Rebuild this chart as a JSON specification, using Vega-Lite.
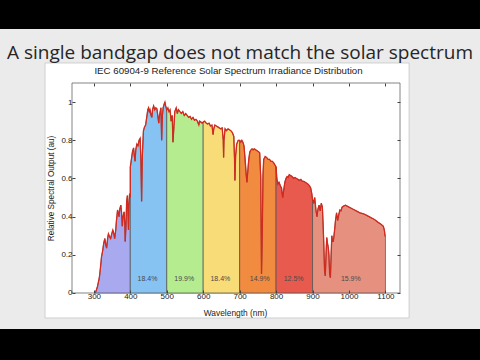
{
  "$schema": "https://vega.github.io/schema/vega-lite/v6.json",
  "width": 480,
  "height": 300,
  "autosize": {"type": "none"},
  "padding": {"top": 29, "bottom": 31, "left": 0, "right": 0},
  "background": "#000000",
  "config": {
    "view": {"fill": "#ebebeb", "stroke": null},
    "font": "Liberation Sans",
    "axis": {"grid": false, "domain": false, "tickColor": "#444444", "labelColor": "#222222", "titleColor": "#222222", "titleFontWeight": "normal"}
  },
  "title": {
    "text": "A single bandgap does not match the solar spectrum",
    "font": "Open Sans",
    "fontSize": 19,
    "fontWeight": "normal",
    "color": "#262626",
    "anchor": "middle",
    "frame": "group",
    "dy": 38
  },
  "resolve": {"axis": {"x": "independent", "y": "independent"}},
  "datasets": {
    "spectrum": [
      {"w": 303, "v": 0.0, "band": "<400"},
      {"w": 306, "v": 0.01, "band": "<400"},
      {"w": 310, "v": 0.035, "band": "<400"},
      {"w": 315, "v": 0.08, "band": "<400"},
      {"w": 318, "v": 0.13, "band": "<400"},
      {"w": 321, "v": 0.19, "band": "<400"},
      {"w": 324, "v": 0.22, "band": "<400"},
      {"w": 327, "v": 0.26, "band": "<400"},
      {"w": 330, "v": 0.285, "band": "<400"},
      {"w": 333, "v": 0.25, "band": "<400"},
      {"w": 335, "v": 0.235, "band": "<400"},
      {"w": 338, "v": 0.29, "band": "<400"},
      {"w": 340, "v": 0.31, "band": "<400"},
      {"w": 343, "v": 0.295, "band": "<400"},
      {"w": 346, "v": 0.285, "band": "<400"},
      {"w": 349, "v": 0.31, "band": "<400"},
      {"w": 352, "v": 0.33, "band": "<400"},
      {"w": 355, "v": 0.31, "band": "<400"},
      {"w": 357, "v": 0.285, "band": "<400"},
      {"w": 360, "v": 0.33, "band": "<400"},
      {"w": 362, "v": 0.38, "band": "<400"},
      {"w": 365, "v": 0.435, "band": "<400"},
      {"w": 367, "v": 0.42, "band": "<400"},
      {"w": 369, "v": 0.4, "band": "<400"},
      {"w": 371, "v": 0.44, "band": "<400"},
      {"w": 374, "v": 0.46, "band": "<400"},
      {"w": 376, "v": 0.42, "band": "<400"},
      {"w": 378, "v": 0.35, "band": "<400"},
      {"w": 380, "v": 0.4, "band": "<400"},
      {"w": 383, "v": 0.425, "band": "<400"},
      {"w": 385, "v": 0.36, "band": "<400"},
      {"w": 386, "v": 0.27, "band": "<400"},
      {"w": 388, "v": 0.35, "band": "<400"},
      {"w": 390, "v": 0.48, "band": "<400"},
      {"w": 392, "v": 0.51, "band": "<400"},
      {"w": 394, "v": 0.4, "band": "<400"},
      {"w": 395, "v": 0.33, "band": "<400"},
      {"w": 396, "v": 0.45, "band": "<400"},
      {"w": 398, "v": 0.52, "band": "<400"},
      {"w": 400, "v": 0.5, "band": "<400"},
      {"w": 400, "v": 0.66, "band": "400-500"},
      {"w": 403, "v": 0.7, "band": "400-500"},
      {"w": 406, "v": 0.74, "band": "400-500"},
      {"w": 409, "v": 0.76, "band": "400-500"},
      {"w": 411, "v": 0.72, "band": "400-500"},
      {"w": 413, "v": 0.69, "band": "400-500"},
      {"w": 415, "v": 0.75, "band": "400-500"},
      {"w": 418, "v": 0.78, "band": "400-500"},
      {"w": 421, "v": 0.77, "band": "400-500"},
      {"w": 424, "v": 0.8, "band": "400-500"},
      {"w": 427, "v": 0.81, "band": "400-500"},
      {"w": 429, "v": 0.7, "band": "400-500"},
      {"w": 431, "v": 0.48, "band": "400-500"},
      {"w": 433, "v": 0.72, "band": "400-500"},
      {"w": 436, "v": 0.85, "band": "400-500"},
      {"w": 439, "v": 0.87, "band": "400-500"},
      {"w": 442, "v": 0.88, "band": "400-500"},
      {"w": 445, "v": 0.92, "band": "400-500"},
      {"w": 448, "v": 0.96, "band": "400-500"},
      {"w": 450, "v": 0.97, "band": "400-500"},
      {"w": 452, "v": 0.95, "band": "400-500"},
      {"w": 454, "v": 0.96, "band": "400-500"},
      {"w": 457, "v": 0.93, "band": "400-500"},
      {"w": 459, "v": 0.92, "band": "400-500"},
      {"w": 461, "v": 0.96, "band": "400-500"},
      {"w": 464, "v": 0.98, "band": "400-500"},
      {"w": 467, "v": 0.96, "band": "400-500"},
      {"w": 470, "v": 0.97, "band": "400-500"},
      {"w": 473, "v": 0.965, "band": "400-500"},
      {"w": 476, "v": 0.92, "band": "400-500"},
      {"w": 478, "v": 0.89, "band": "400-500"},
      {"w": 480, "v": 0.93, "band": "400-500"},
      {"w": 482, "v": 0.95, "band": "400-500"},
      {"w": 484, "v": 0.97, "band": "400-500"},
      {"w": 486, "v": 0.8, "band": "400-500"},
      {"w": 488, "v": 0.93, "band": "400-500"},
      {"w": 490, "v": 0.97, "band": "400-500"},
      {"w": 493, "v": 0.99, "band": "400-500"},
      {"w": 495, "v": 1.0, "band": "400-500"},
      {"w": 497, "v": 0.98, "band": "400-500"},
      {"w": 500, "v": 0.96, "band": "400-500"},
      {"w": 500, "v": 0.96, "band": "500-600"},
      {"w": 503, "v": 0.97, "band": "500-600"},
      {"w": 506, "v": 0.95, "band": "500-600"},
      {"w": 509, "v": 0.96, "band": "500-600"},
      {"w": 512, "v": 0.9, "band": "500-600"},
      {"w": 515, "v": 0.93, "band": "500-600"},
      {"w": 517, "v": 0.79, "band": "500-600"},
      {"w": 519, "v": 0.85, "band": "500-600"},
      {"w": 522, "v": 0.95, "band": "500-600"},
      {"w": 526, "v": 0.97, "band": "500-600"},
      {"w": 529, "v": 0.94, "band": "500-600"},
      {"w": 532, "v": 0.96, "band": "500-600"},
      {"w": 536, "v": 0.95, "band": "500-600"},
      {"w": 540, "v": 0.94, "band": "500-600"},
      {"w": 544, "v": 0.95, "band": "500-600"},
      {"w": 548, "v": 0.93, "band": "500-600"},
      {"w": 552, "v": 0.94, "band": "500-600"},
      {"w": 556, "v": 0.93, "band": "500-600"},
      {"w": 560, "v": 0.92, "band": "500-600"},
      {"w": 564, "v": 0.925, "band": "500-600"},
      {"w": 568, "v": 0.91, "band": "500-600"},
      {"w": 572, "v": 0.92, "band": "500-600"},
      {"w": 576, "v": 0.905, "band": "500-600"},
      {"w": 580, "v": 0.91, "band": "500-600"},
      {"w": 584, "v": 0.9, "band": "500-600"},
      {"w": 588, "v": 0.88, "band": "500-600"},
      {"w": 590, "v": 0.9, "band": "500-600"},
      {"w": 594, "v": 0.895, "band": "500-600"},
      {"w": 597, "v": 0.89, "band": "500-600"},
      {"w": 600, "v": 0.895, "band": "500-600"},
      {"w": 600, "v": 0.895, "band": "600-700"},
      {"w": 604, "v": 0.9, "band": "600-700"},
      {"w": 608, "v": 0.89, "band": "600-700"},
      {"w": 612, "v": 0.885, "band": "600-700"},
      {"w": 616, "v": 0.89, "band": "600-700"},
      {"w": 620, "v": 0.875, "band": "600-700"},
      {"w": 624, "v": 0.88, "band": "600-700"},
      {"w": 627, "v": 0.83, "band": "600-700"},
      {"w": 629, "v": 0.86, "band": "600-700"},
      {"w": 632, "v": 0.88, "band": "600-700"},
      {"w": 636, "v": 0.875, "band": "600-700"},
      {"w": 640, "v": 0.87, "band": "600-700"},
      {"w": 644, "v": 0.865, "band": "600-700"},
      {"w": 648, "v": 0.86, "band": "600-700"},
      {"w": 652, "v": 0.865, "band": "600-700"},
      {"w": 655, "v": 0.8, "band": "600-700"},
      {"w": 656, "v": 0.71, "band": "600-700"},
      {"w": 657, "v": 0.8, "band": "600-700"},
      {"w": 660, "v": 0.86, "band": "600-700"},
      {"w": 664, "v": 0.85, "band": "600-700"},
      {"w": 668, "v": 0.86, "band": "600-700"},
      {"w": 672, "v": 0.855, "band": "600-700"},
      {"w": 676, "v": 0.85, "band": "600-700"},
      {"w": 680, "v": 0.84, "band": "600-700"},
      {"w": 684, "v": 0.82, "band": "600-700"},
      {"w": 686, "v": 0.7, "band": "600-700"},
      {"w": 687, "v": 0.59, "band": "600-700"},
      {"w": 689, "v": 0.72, "band": "600-700"},
      {"w": 692, "v": 0.78, "band": "600-700"},
      {"w": 696, "v": 0.8, "band": "600-700"},
      {"w": 700, "v": 0.8, "band": "600-700"},
      {"w": 700, "v": 0.8, "band": "700-800"},
      {"w": 703, "v": 0.79, "band": "700-800"},
      {"w": 706, "v": 0.8, "band": "700-800"},
      {"w": 709, "v": 0.79, "band": "700-800"},
      {"w": 712, "v": 0.77, "band": "700-800"},
      {"w": 715, "v": 0.7, "band": "700-800"},
      {"w": 718, "v": 0.62, "band": "700-800"},
      {"w": 720, "v": 0.58, "band": "700-800"},
      {"w": 722, "v": 0.63, "band": "700-800"},
      {"w": 725, "v": 0.7, "band": "700-800"},
      {"w": 728, "v": 0.74, "band": "700-800"},
      {"w": 731, "v": 0.75, "band": "700-800"},
      {"w": 734, "v": 0.755, "band": "700-800"},
      {"w": 737, "v": 0.75, "band": "700-800"},
      {"w": 740, "v": 0.755, "band": "700-800"},
      {"w": 744, "v": 0.75, "band": "700-800"},
      {"w": 748, "v": 0.745, "band": "700-800"},
      {"w": 752, "v": 0.74, "band": "700-800"},
      {"w": 755, "v": 0.735, "band": "700-800"},
      {"w": 758, "v": 0.6, "band": "700-800"},
      {"w": 760, "v": 0.1, "band": "700-800"},
      {"w": 762, "v": 0.3, "band": "700-800"},
      {"w": 764, "v": 0.62, "band": "700-800"},
      {"w": 766, "v": 0.7, "band": "700-800"},
      {"w": 770, "v": 0.715, "band": "700-800"},
      {"w": 774, "v": 0.71, "band": "700-800"},
      {"w": 778, "v": 0.7, "band": "700-800"},
      {"w": 782, "v": 0.7, "band": "700-800"},
      {"w": 786, "v": 0.69, "band": "700-800"},
      {"w": 790, "v": 0.69, "band": "700-800"},
      {"w": 794, "v": 0.68, "band": "700-800"},
      {"w": 797, "v": 0.67, "band": "700-800"},
      {"w": 800, "v": 0.66, "band": "700-800"},
      {"w": 800, "v": 0.66, "band": "800-900"},
      {"w": 802, "v": 0.6, "band": "800-900"},
      {"w": 805, "v": 0.57, "band": "800-900"},
      {"w": 808, "v": 0.58, "band": "800-900"},
      {"w": 812, "v": 0.56, "band": "800-900"},
      {"w": 815, "v": 0.55, "band": "800-900"},
      {"w": 818, "v": 0.5, "band": "800-900"},
      {"w": 821, "v": 0.54, "band": "800-900"},
      {"w": 824, "v": 0.58, "band": "800-900"},
      {"w": 827, "v": 0.6, "band": "800-900"},
      {"w": 830, "v": 0.61, "band": "800-900"},
      {"w": 833, "v": 0.605, "band": "800-900"},
      {"w": 836, "v": 0.62, "band": "800-900"},
      {"w": 840, "v": 0.615, "band": "800-900"},
      {"w": 844, "v": 0.61, "band": "800-900"},
      {"w": 848, "v": 0.6, "band": "800-900"},
      {"w": 852, "v": 0.605, "band": "800-900"},
      {"w": 856, "v": 0.6, "band": "800-900"},
      {"w": 860, "v": 0.595, "band": "800-900"},
      {"w": 864, "v": 0.59, "band": "800-900"},
      {"w": 868, "v": 0.595, "band": "800-900"},
      {"w": 872, "v": 0.585, "band": "800-900"},
      {"w": 876, "v": 0.585, "band": "800-900"},
      {"w": 880, "v": 0.58, "band": "800-900"},
      {"w": 884, "v": 0.575, "band": "800-900"},
      {"w": 888, "v": 0.57, "band": "800-900"},
      {"w": 892, "v": 0.56, "band": "800-900"},
      {"w": 895, "v": 0.55, "band": "800-900"},
      {"w": 898, "v": 0.52, "band": "800-900"},
      {"w": 900, "v": 0.49, "band": "800-900"},
      {"w": 900, "v": 0.49, "band": "900-1100"},
      {"w": 903, "v": 0.47, "band": "900-1100"},
      {"w": 906, "v": 0.5, "band": "900-1100"},
      {"w": 909, "v": 0.44, "band": "900-1100"},
      {"w": 912, "v": 0.4, "band": "900-1100"},
      {"w": 915, "v": 0.44, "band": "900-1100"},
      {"w": 918, "v": 0.46, "band": "900-1100"},
      {"w": 921, "v": 0.43, "band": "900-1100"},
      {"w": 924, "v": 0.47, "band": "900-1100"},
      {"w": 927, "v": 0.45, "band": "900-1100"},
      {"w": 929, "v": 0.36, "band": "900-1100"},
      {"w": 931, "v": 0.25, "band": "900-1100"},
      {"w": 933, "v": 0.12, "band": "900-1100"},
      {"w": 935, "v": 0.09, "band": "900-1100"},
      {"w": 937, "v": 0.2, "band": "900-1100"},
      {"w": 939, "v": 0.29, "band": "900-1100"},
      {"w": 941, "v": 0.26, "band": "900-1100"},
      {"w": 943, "v": 0.24, "band": "900-1100"},
      {"w": 945, "v": 0.2, "band": "900-1100"},
      {"w": 947, "v": 0.1, "band": "900-1100"},
      {"w": 949, "v": 0.08, "band": "900-1100"},
      {"w": 951, "v": 0.2, "band": "900-1100"},
      {"w": 953, "v": 0.3, "band": "900-1100"},
      {"w": 955, "v": 0.27, "band": "900-1100"},
      {"w": 957, "v": 0.27, "band": "900-1100"},
      {"w": 960, "v": 0.32, "band": "900-1100"},
      {"w": 963, "v": 0.38, "band": "900-1100"},
      {"w": 966, "v": 0.42, "band": "900-1100"},
      {"w": 969, "v": 0.38, "band": "900-1100"},
      {"w": 972, "v": 0.41, "band": "900-1100"},
      {"w": 975, "v": 0.435, "band": "900-1100"},
      {"w": 978, "v": 0.43, "band": "900-1100"},
      {"w": 981, "v": 0.45, "band": "900-1100"},
      {"w": 985, "v": 0.455, "band": "900-1100"},
      {"w": 990, "v": 0.46, "band": "900-1100"},
      {"w": 995, "v": 0.455, "band": "900-1100"},
      {"w": 1000, "v": 0.45, "band": "900-1100"},
      {"w": 1010, "v": 0.44, "band": "900-1100"},
      {"w": 1020, "v": 0.43, "band": "900-1100"},
      {"w": 1030, "v": 0.42, "band": "900-1100"},
      {"w": 1040, "v": 0.415, "band": "900-1100"},
      {"w": 1050, "v": 0.405, "band": "900-1100"},
      {"w": 1060, "v": 0.395, "band": "900-1100"},
      {"w": 1070, "v": 0.385, "band": "900-1100"},
      {"w": 1080, "v": 0.37, "band": "900-1100"},
      {"w": 1088, "v": 0.36, "band": "900-1100"},
      {"w": 1094, "v": 0.35, "band": "900-1100"},
      {"w": 1097, "v": 0.33, "band": "900-1100"},
      {"w": 1099, "v": 0.3, "band": "900-1100"},
      {"w": 1100, "v": 0.3, "band": "900-1100"}
    ],
    "shares": [
      {"w": 447, "label": "18.4%"},
      {"w": 548, "label": "19.9%"},
      {"w": 647, "label": "18.4%"},
      {"w": 755, "label": "14.9%"},
      {"w": 848, "label": "12.5%"},
      {"w": 1005, "label": "15.9%"}
    ]
  },
  "layer": [
    {
      "data": {"values": [{}]},
      "mark": {"type": "rect", "fill": "#ffffff", "stroke": "#cfcfcf", "strokeWidth": 1},
      "encoding": {
        "x": {"datum": 166, "type": "quantitative", "scale": {"domain": [42.44, 1359.5], "nice": false, "zero": false}, "axis": null},
        "x2": {"datum": 1165},
        "y": {"datum": -0.131, "type": "quantitative", "scale": {"domain": [-0.1886, 1.3829], "nice": false, "zero": false}, "axis": null},
        "y2": {"datum": 1.205}
      }
    },
    {
      "data": {"values": [{}]},
      "mark": {"type": "rect", "fill": "#ffffff", "stroke": "#666666", "strokeWidth": 0.8},
      "encoding": {
        "x": {"datum": 240, "type": "quantitative", "scale": {"domain": [42.44, 1359.5], "nice": false, "zero": false}, "axis": null},
        "x2": {"datum": 1140},
        "y": {"datum": 0, "type": "quantitative", "scale": {"domain": [-0.1886, 1.3829], "nice": false, "zero": false}, "axis": null},
        "y2": {"datum": 1.1}
      }
    },
    {
      "data": {"name": "spectrum"},
      "mark": {"type": "area", "opacity": 1, "stroke": "#4d4d4d", "strokeWidth": 0.7, "interpolate": "linear"},
      "encoding": {
        "x": {
          "field": "w", "type": "quantitative",
          "scale": {"domain": [42.44, 1359.5], "nice": false, "zero": false},
          "axis": {
            "orient": "bottom", "offset": -36, "zindex": 2, "values": [300, 400, 500, 600, 700, 800, 900, 1000, 1100],
            "format": "d", "tickSize": -3, "labelPadding": 2, "labelFontSize": 8,
            "title": "Wavelength (nm)", "titleFontSize": 8.4, "titleX": 235, "titleY": 19, "titleBaseline": "middle"
          }
        },
        "y": {
          "field": "v", "type": "quantitative", "stack": null,
          "scale": {"domain": [-0.1886, 1.3829], "nice": false, "zero": false},
          "axis": {
            "orient": "left", "offset": -72, "zindex": 2, "values": [0, 0.2, 0.4, 0.6, 0.8, 1],
            "format": "~g", "tickSize": -3, "labelPadding": 3, "labelFontSize": 8,
            "title": "Relative Spectral Output (au)", "titleFontSize": 8.2, "titleX": -21, "titleY": 159, "titleBaseline": "middle"
          }
        },
        "y2": {"datum": 0},
        "color": {
          "field": "band", "type": "nominal", "legend": null,
          "scale": {
            "domain": ["<400", "400-500", "500-600", "600-700", "700-800", "800-900", "900-1100"],
            "range": ["#a8a9ee", "#86c3f2", "#b6ec90", "#f8dc78", "#f08b40", "#e85a4e", "#e6917f"]
          }
        }
      }
    },
    {
      "data": {"name": "spectrum"},
      "mark": {"type": "line", "color": "#d22a1e", "strokeWidth": 1.3, "interpolate": "linear"},
      "encoding": {
        "x": {
          "field": "w", "type": "quantitative",
          "scale": {"domain": [42.44, 1359.5], "nice": false, "zero": false},
          "axis": {
            "orient": "top", "offset": -54, "zindex": 2, "values": [300, 400, 500, 600, 700, 800, 900, 1000, 1100],
            "labels": false, "tickSize": -3,
            "title": "IEC 60904-9 Reference Solar Spectrum Irradiance Distribution", "titleFontSize": 9.7, "titleX": 228, "titleY": -13, "titleBaseline": "middle"
          }
        },
        "y": {
          "field": "v", "type": "quantitative",
          "scale": {"domain": [-0.1886, 1.3829], "nice": false, "zero": false},
          "axis": {
            "orient": "right", "offset": -80, "zindex": 2, "values": [0, 0.2, 0.4, 0.6, 0.8, 1],
            "labels": false, "tickSize": -3, "title": null
          }
        }
      }
    },
    {
      "data": {"name": "shares"},
      "mark": {"type": "text", "fontSize": 7, "color": "#4a4a4a", "baseline": "middle", "align": "center"},
      "encoding": {
        "x": {"field": "w", "type": "quantitative", "scale": {"domain": [42.44, 1359.5], "nice": false, "zero": false}, "axis": null},
        "y": {"datum": 0.072, "type": "quantitative", "scale": {"domain": [-0.1886, 1.3829], "nice": false, "zero": false}, "axis": null},
        "text": {"field": "label"}
      }
    }
  ]
}
